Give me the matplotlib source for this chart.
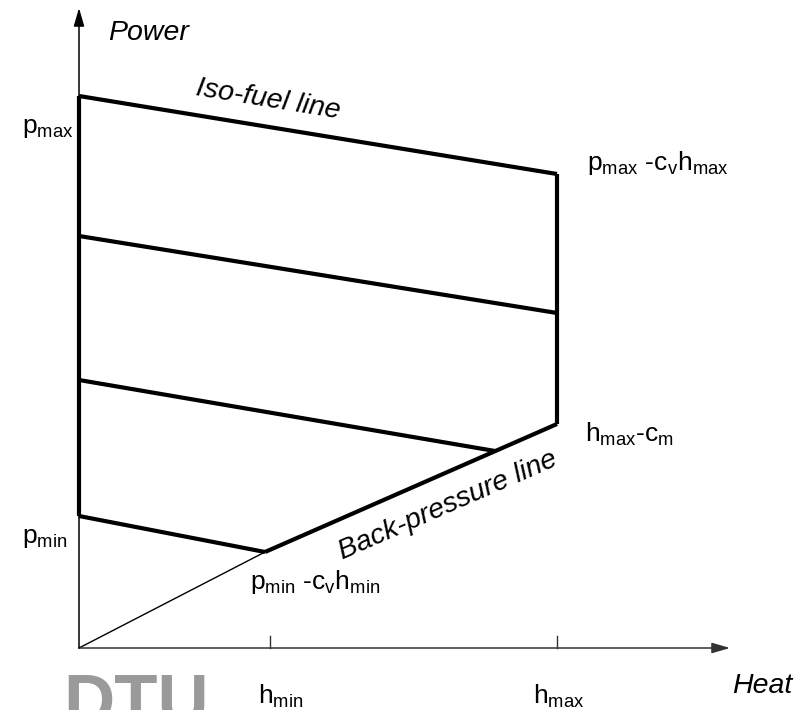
import numpy as np
import matplotlib.pyplot as plt

plt.rcParams['font.family'] = ['Liberation Sans', 'DejaVu Sans']
plt.rcParams['mathtext.fontset'] = 'custom'
plt.rcParams['mathtext.rm'] = 'Liberation Sans'

# operating region of a back-pressure / extraction CHP unit (drawing units)
h_min = 191
h_max = 478
p_max = 552
p_min = 132

# iso-fuel lines: power at heat = 0, and where each line ends
iso_p_left = [552, 412, 268, 132]
iso_h_right = [478, 478, 416, 186]
iso_p_right = [474, 335, 197, 96]

# back-pressure line
bp_h = [186, 478]
bp_p = [96, 224]

# axis extents
heat_end = 651
power_end = 640
tick_len = 12

fig = plt.figure(figsize=(7.96, 7.10), dpi=100)
ax = fig.add_axes([0, 0, 1, 1])
ax.set_xlim(-79, 717)
ax.set_ylim(-62, 648)
ax.axis('off')

# axes with arrows
arrow = dict(arrowstyle='-|>,head_length=0.55,head_width=0.16', mutation_scale=20,
             lw=1.1, shrinkA=0, shrinkB=0)
ax.annotate('', xy=(heat_end, 0), xytext=(0, 0), arrowprops=dict(arrow, color='#333333'))
ax.annotate('', xy=(0, power_end), xytext=(0, 0), arrowprops=dict(arrow, color='black'))
for h in [h_min, h_max]:
    ax.plot([h, h], [0, tick_len], color='#333333', lw=1)

# thin line from origin to minimum point
ax.plot([0, bp_h[0]], [0, bp_p[0]], color='black', lw=1)

# feasible region boundaries
ax.plot([0, 0], [p_min, p_max], color='black', lw=3, solid_capstyle='butt')
ax.plot([h_max, h_max], [bp_p[1], iso_p_right[0]], color='black', lw=3, solid_capstyle='butt')
ax.plot(bp_h, bp_p, color='black', lw=3, solid_capstyle='butt')
for pl, hr, pr in zip(iso_p_left, iso_h_right, iso_p_right):
    ax.plot([0, hr], [pl, pr], color='black', lw=3, solid_capstyle='butt')

# labels
fs = 19
fs_it = 20.5
ax.text(29, 615, 'Power', fontsize=fs_it, style='italic', ha='left', va='center')
ax.text(653, -45, 'Heat', fontsize=fs_it, style='italic', ha='left', va='baseline')
ax.text(-57, 515, r'p$_{\mathregular{max}}$', fontsize=fs, va='baseline')
ax.text(-57, 105, r'p$_{\mathregular{min}}$', fontsize=fs, va='baseline')
ax.text(508, 478, r'p$_{\mathregular{max}}$ -c$_{\mathregular{v}}$h$_{\mathregular{max}}$',
        fontsize=fs, va='baseline')
ax.text(506, 206, r'h$_{\mathregular{max}}$-c$_{\mathregular{m}}$', fontsize=fs, va='baseline')
ax.text(171, 59, r'p$_{\mathregular{min}}$ -c$_{\mathregular{v}}$h$_{\mathregular{min}}$',
        fontsize=fs, va='baseline')
ax.text(179, -55, r'h$_{\mathregular{min}}$', fontsize=fs, va='baseline')
ax.text(454, -55, r'h$_{\mathregular{max}}$', fontsize=fs, va='baseline')

iso_angle = np.degrees(np.arctan2(iso_p_right[0] - iso_p_left[0], iso_h_right[0]))
bp_angle = np.degrees(np.arctan2(bp_p[1] - bp_p[0], bp_h[1] - bp_h[0]))
ax.text(189, 548, 'Iso-fuel line', fontsize=fs_it, style='italic', rotation=iso_angle,
        rotation_mode='anchor', ha='center', va='center')
ax.text(369, 142, 'Back-pressure line', fontsize=fs_it, style='italic', rotation=bp_angle,
        rotation_mode='anchor', ha='center', va='center')

# logo, cut by the bottom edge
ax.text(-16, -76, 'DTU', fontsize=51, weight='bold', color='#9a9a9a', va='baseline',
        clip_on=False)

fig.savefig('out.png', dpi=100)
